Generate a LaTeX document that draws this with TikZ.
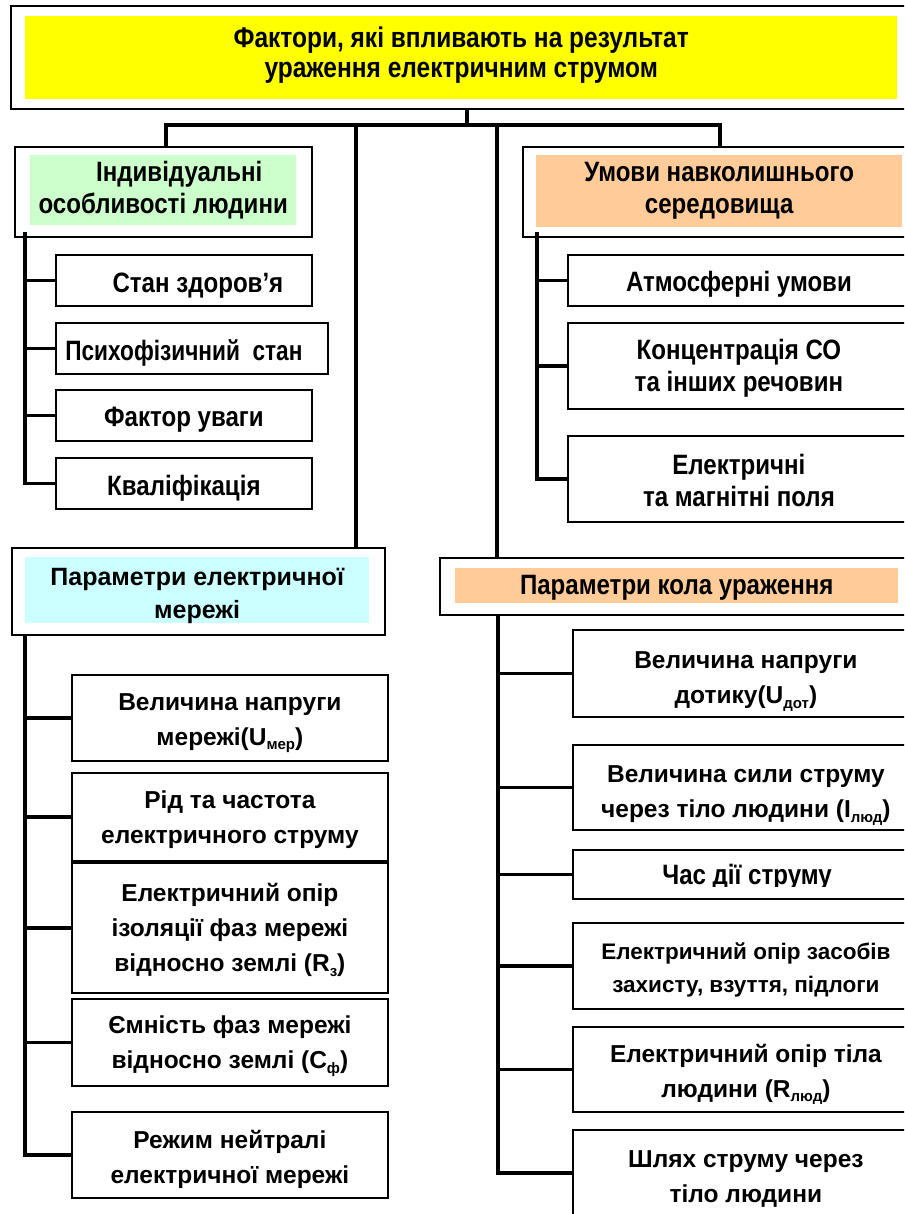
\documentclass[tikz,border=0pt]{standalone}
\usepackage{fontspec}
\setmainfont{Liberation Sans}
\newfontfamily\narrowfont{Liberation Sans}[FakeStretch=0.86]
\newcommand\mysub[1]{\raisebox{-0.35ex}{\fontsize{15}{15}\selectfont #1}}
% frame box + its text: name, north-west corner, width, height, text style, text shift, text
\newcommand\fbx[7]{%
  \node[frame, minimum width=#3, minimum height=#4] (#1) at (#2) {};
  \node[#5] (#1-t) at ([yshift=#6]#1.center) {#7};}
\definecolor{ylw}{HTML}{FFFF00}
\definecolor{grn}{HTML}{CCFFCC}
\definecolor{org}{HTML}{FFCC99}
\definecolor{cyn}{HTML}{CCFFFF}
\begin{document}
\begin{tikzpicture}[x=1pt,y=-1pt,
  frame/.style={draw=black, line width=1.8pt, fill=white, inner sep=0pt, anchor=north west},
  panel/.style={inner sep=0pt, anchor=north west},
  conn/.style={line width=3.2pt, black},
  big/.style={font=\narrowfont\bfseries\fontsize{28}{31}\selectfont, align=center, inner sep=0pt},
  bigb/.style={font=\narrowfont\bfseries\fontsize{28}{32}\selectfont, align=center, inner sep=0pt},
  small/.style={font=\bfseries\fontsize{24.5}{35}\selectfont, align=center, inner sep=0pt}]
\useasboundingbox (0,0) rectangle (904,1214);
\clip (0,0) rectangle (904,1214);

% title
\node[frame, minimum width=912, minimum height=103] (top) at (10,5) {};
\node[panel, fill=ylw, minimum width=872, minimum height=83] (titlef) at (25,16) {};
\node[big, font=\narrowfont\bfseries\fontsize{28.5}{30.5}\selectfont] (title) at ([yshift=2.5pt]titlef.center)
  {Фактори, які впливають на результат\\ураження електричним струмом};

% headings
\node[frame, minimum width=297, minimum height=90] (ind) at (14,146) {};
\node[panel, fill=grn, minimum width=266, minimum height=70, bigb] (indt) at (30,155)
  {\rule{32pt}{0pt}Індивідуальні\\особливості людини};

\node[frame, minimum width=396, minimum height=90] (umo) at (522,146) {};
\node[panel, fill=org, minimum width=366, minimum height=72, bigb] (umot) at (536,155)
  {Умови навколишнього\\середовища};

\node[frame, minimum width=373, minimum height=87] (pem) at (11,547) {};
\node[panel, fill=cyn, minimum width=344, minimum height=66] (pemf) at (25,557) {};
\node[small, font=\bfseries\fontsize{25}{33}\selectfont] (pemt) at ([yshift=-6pt]pemf.center)
  {Параметри електричної\\мережі};

\node[frame, minimum width=500, minimum height=57] (pku) at (439,557) {};
\node[panel, fill=org, minimum width=443, minimum height=35] (pkuf) at (455,568) {};
\node[big] (pkut) at ([yshift=-2pt]pkuf.center) {Параметри кола ураження};

% left top sub boxes
\fbx{stan}{55,254}{256}{51}{big}{-5pt}{\rule{28pt}{0pt}Стан здоров’я}
\fbx{psy}{55,322}{272}{51}{big}{-5pt}{\scalebox{0.94}[1]{Психофізичний\ \ стан}\rule{16pt}{0pt}}
\fbx{fakt}{55,389}{256}{51}{big}{-4pt}{Фактор уваги}
\fbx{kval}{55,457}{256}{51}{big}{-5pt}{Кваліфікація}

% right top sub boxes
\fbx{atm}{567,254}{342}{51}{big}{-4pt}{Атмосферні умови}
\fbx{konc}{567,322}{342}{86}{bigb}{-2pt}{Концентрація СО\\та інших речовин}
\fbx{elpol}{567,435}{342}{86}{bigb}{-2pt}{Електричні\\та магнітні поля}

% bottom left sub boxes
\fbx{vnm}{71,674}{316}{86}{small}{-5pt}{Величина напруги\\мережі(U\mysub{мер})}
\fbx{rid}{71,772}{316}{88}{small}{-3pt}{Рід та частота\\електричного струму}
\fbx{izol}{71,862}{316}{130}{small}{-2pt}{Електричний опір\\ізоляції фаз мережі\\відносно землі (R\mysub{з})}
\fbx{emn}{71,998}{316}{87}{small}{-4pt}{Ємність фаз мережі\\відносно землі (С\mysub{ф})}
\fbx{rezh}{71,1111}{316}{86}{small}{-5pt}{Режим нейтралі\\електричної мережі}

% bottom right sub boxes
\fbx{vnd}{572,629}{346}{87}{small}{-8pt}{Величина напруги\\дотику(U\mysub{дот})}
\fbx{syl}{572,744}{346}{85}{small}{-8pt}{Величина сили струму\\через тіло людини (I\mysub{люд})}
\node[frame, minimum width=346, minimum height=49] (chas) at (572,849) {};
\begin{scope}
  \clip (572,849) rectangle (918,886);
  \node[big, anchor=base] (chas-t) at (747,884) {Час дії струму};
\end{scope}
\fbx{zas}{572,922}{346}{86}{small, font=\bfseries\fontsize{22.5}{33.5}\selectfont}{-4pt}{Електричний опір засобів\\захисту, взуття, підлоги}
\fbx{til}{572,1026}{346}{85}{small}{-5pt}{Електричний опір тіла\\людини (R\mysub{люд})}
\fbx{shl}{572,1129}{346}{86}{small}{-6pt}{Шлях струму через\\тіло людини}

% connectors
\coordinate (busL) at (166,125);
\coordinate (busR) at (720,125);
\coordinate (dropA) at (356,125);
\coordinate (dropB) at (497,125);
\draw[conn] (top.south) -- (top.south |- busL);
\draw[conn] (busL |- ind.north) -- (busL) -- (busR) -- (busR |- umo.north);
\draw[conn] (dropA) -- (dropA |- pem.north);
\draw[conn] (dropB) -- (dropB |- pku.north);

\coordinate (spL) at (25,232);
\draw[conn] (spL) |- (kval.west);
\foreach \b in {stan,psy,fakt} \draw[conn] (spL |- \b.west) -- (\b.west);

\coordinate (spR) at (537,232);
\draw[conn] (spR) |- (elpol.west);
\foreach \b in {atm,konc} \draw[conn] (spR |- \b.west) -- (\b.west);

\coordinate (spL2) at (25,634);
\draw[conn] (spL2) |- (rezh.west);
\foreach \b in {vnm,rid,izol,emn} \draw[conn] (spL2 |- \b.west) -- (\b.west);

\coordinate (spR2) at (498,614);
\draw[conn] (spR2) |- (shl.west);
\foreach \b in {vnd,syl,chas,zas,til} \draw[conn] (spR2 |- \b.west) -- (\b.west);
\end{tikzpicture}
\end{document}
